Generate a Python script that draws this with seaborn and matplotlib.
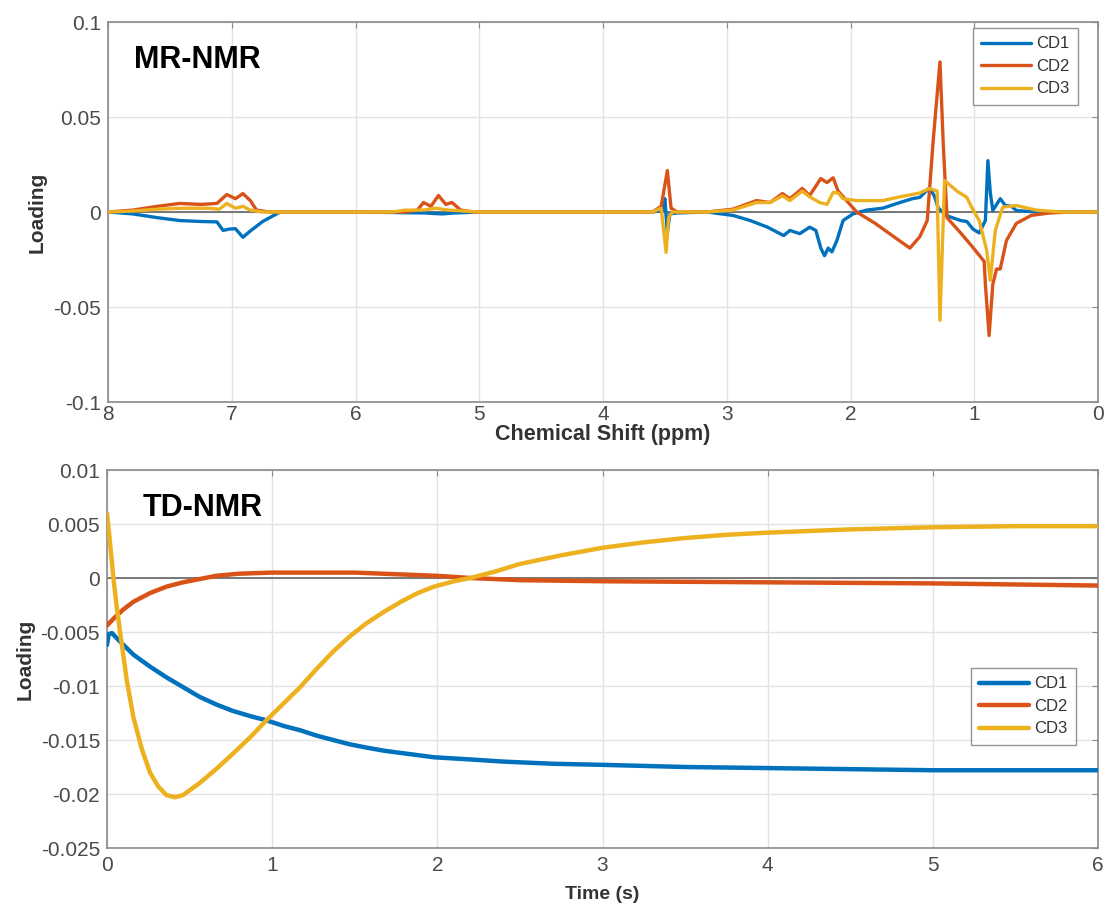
import numpy as np
import pandas as pd
import matplotlib
matplotlib.use("Agg")
import matplotlib.pyplot as plt
import seaborn as sns

# ---------------- MR-NMR spectrum loadings (ppm, loading) ----------------
cd1_ppm = [8.0, 7.8, 7.6, 7.42, 7.25, 7.12, 7.07, 7.02, 6.97, 6.91, 6.85, 6.75, 6.61,
           6.0, 5.45, 5.3, 5.2, 5.0, 4.0, 3.6, 3.52, 3.50, 3.48, 3.46, 3.4, 3.16,
           2.95, 2.81, 2.67, 2.57, 2.54, 2.49, 2.41, 2.33, 2.28, 2.24, 2.21, 2.18,
           2.15, 2.11, 2.06, 1.98, 1.87, 1.74, 1.6, 1.5, 1.44, 1.36, 1.32, 1.29,
           1.22, 1.11, 1.06, 1.01, 0.96, 0.91, 0.89, 0.87, 0.85, 0.79, 0.75, 0.70,
           0.66, 0.5, 0.0]
cd1_val = [0.0, -0.001, -0.003, -0.0045, -0.005, -0.0052, -0.0097, -0.009, -0.0088, -0.0133,
           -0.010, -0.005, 0.0,
           0.0, -0.0005, -0.001, -0.0005, 0.0, 0.0, 0.0, 0.001, 0.007, -0.011, -0.001, -0.0005, 0.0,
           -0.0018, -0.0045, -0.008, -0.0114, -0.0124, -0.0097, -0.0114, -0.008, -0.0097,
           -0.019, -0.023, -0.019, -0.021, -0.015, -0.0045, -0.001, 0.001, 0.002, 0.005,
           0.007, 0.0077, 0.0129, 0.008, 0.002,
           -0.002, -0.0045, -0.005, -0.009, -0.011, -0.0045, 0.027, 0.010, 0.0008, 0.007,
           0.0035, 0.003, 0.0008, 0.0, 0.0]

cd2_ppm = [8.0, 7.8, 7.6, 7.42, 7.25, 7.12, 7.04, 6.97, 6.91, 6.85, 6.80, 6.7,
           5.6, 5.5, 5.45, 5.39, 5.33, 5.27, 5.22, 5.15, 5.05, 3.6, 3.53, 3.48, 3.45,
           3.4, 3.16, 2.95, 2.76, 2.65, 2.55, 2.49, 2.39, 2.33, 2.24, 2.19, 2.14, 2.10,
           1.95, 1.8, 1.65, 1.52, 1.44, 1.38, 1.33, 1.277, 1.25, 1.22, 1.11, 1.01, 0.92,
           0.91, 0.88, 0.85, 0.82, 0.79, 0.74, 0.66, 0.54, 0.39, 0.2, 0.0]
cd2_val = [0.0, 0.001, 0.003, 0.0045, 0.004, 0.0045, 0.0092, 0.007, 0.0097, 0.006, 0.001, 0.0,
           0.0, 0.001, 0.005, 0.003, 0.0087, 0.004, 0.005, 0.001, 0.0, 0.0, 0.003, 0.0218, 0.002,
           0.0, 0.0, 0.0015, 0.006, 0.005, 0.0097, 0.007, 0.0124, 0.0087, 0.0176, 0.0155, 0.018,
           0.011, 0.0, -0.006, -0.013, -0.019, -0.013, -0.0045, 0.039, 0.079, 0.035, -0.003,
           -0.011, -0.0187, -0.026, -0.038, -0.065, -0.038, -0.030, -0.030, -0.015, -0.006,
           -0.0018, -0.0005, 0.0, 0.0]

cd3_ppm = [8.0, 7.8, 7.6, 7.4, 7.2, 7.1, 7.04, 6.97, 6.91, 6.85, 6.75, 5.7, 5.6,
           5.45, 5.35, 5.25, 5.0, 3.6, 3.53, 3.49, 3.47, 3.44, 3.16, 2.95, 2.76, 2.65,
           2.55, 2.49, 2.39, 2.33, 2.25, 2.19, 2.14, 2.10, 2.06, 1.95, 1.74, 1.6, 1.52,
           1.44, 1.36, 1.30, 1.277, 1.24, 1.14, 1.06, 1.02, 0.96, 0.90, 0.87, 0.83,
           0.77, 0.66, 0.5, 0.3, 0.0]
cd3_val = [0.0, 0.0005, 0.0015, 0.002, 0.002, 0.0015, 0.0045, 0.002, 0.003, 0.001, 0.0, 0.0,
           0.001, 0.001, 0.002, 0.001, 0.0, 0.0, 0.002, -0.0213, -0.003, 0.0, 0.0, 0.001,
           0.005, 0.005, 0.0085, 0.006, 0.011, 0.008, 0.005, 0.004, 0.0103, 0.010, 0.007,
           0.006, 0.006, 0.008, 0.009, 0.010, 0.0124, 0.011, -0.057, 0.0166, 0.011, 0.0077,
           0.0024, -0.0045, -0.020, -0.036, -0.0097, 0.0025, 0.0034, 0.001, 0.0, 0.0]

# ---------------- TD-NMR loadings (time s, loading) ----------------
td1_t = [0.0, 0.01, 0.03, 0.08, 0.16, 0.26, 0.36, 0.46, 0.56, 0.66, 0.76, 0.87, 0.97,
         1.07, 1.17, 1.27, 1.37, 1.47, 1.57, 1.68, 1.78, 1.88, 1.98, 2.2, 2.4, 2.7,
         3.0, 3.5, 4.0, 4.5, 5.0, 6.0]
td1_val = [-0.0062, -0.0052, -0.0051, -0.0059, -0.0071, -0.0082, -0.0092, -0.0101, -0.011,
           -0.0117, -0.0123, -0.0128, -0.0132, -0.0137, -0.0141, -0.0146, -0.015, -0.0154,
           -0.0157, -0.016, -0.0162, -0.0164, -0.0166, -0.0168, -0.017, -0.0172, -0.0173,
           -0.0175, -0.0176, -0.0177, -0.0178, -0.0178]

td2_t = [0.0, 0.05, 0.1, 0.16, 0.26, 0.36, 0.46, 0.56, 0.66, 0.8, 1.0, 1.5, 2.0, 2.2,
         2.5, 3.0, 4.0, 5.0, 6.0]
td2_val = [-0.0044, -0.0036, -0.0029, -0.0022, -0.0014, -0.0008, -0.0004, -0.0001, 0.0002,
           0.0004, 0.0005, 0.0005, 0.0002, 0.0, -0.0002, -0.0003, -0.0004, -0.0005, -0.0007]

td3_t = [0.0, 0.02, 0.04, 0.06, 0.08, 0.12, 0.16, 0.21, 0.26, 0.31, 0.36, 0.41, 0.46,
         0.56, 0.66, 0.76, 0.87, 0.97, 1.07, 1.17, 1.27, 1.37, 1.47, 1.57, 1.68, 1.78,
         1.88, 1.98, 2.1, 2.2, 2.35, 2.5, 2.75, 3.0, 3.25, 3.5, 3.75, 4.0, 4.5, 5.0,
         5.5, 6.0]
td3_val = [0.006, 0.003, -0.0002, -0.0028, -0.0051, -0.0095, -0.0129, -0.0158, -0.018,
           -0.0193, -0.0201, -0.0203, -0.0201, -0.019, -0.0177, -0.0163, -0.0147, -0.0131,
           -0.0116, -0.0101, -0.0084, -0.0068, -0.0054, -0.0042, -0.0031, -0.0022, -0.0014,
           -0.0008, -0.0003, 0.0, 0.0006, 0.0013, 0.0021, 0.0028, 0.0033, 0.0037, 0.004,
           0.0042, 0.0045, 0.0047, 0.0048, 0.0048]

series_names = ["CD1", "CD2", "CD3"]
top_yticks = [-0.1, -0.05, 0, 0.05, 0.1]
top_yticklabels = ["-0.1", "-0.05", "0", "0.05", "0.1"]
top_xticks = [8, 7, 6, 5, 4, 3, 2, 1, 0]
bot_yticks = [-0.025, -0.02, -0.015, -0.01, -0.005, 0, 0.005, 0.01]
bot_yticklabels = ["-0.025", "-0.02", "-0.015", "-0.01", "-0.005", "0", "0.005", "0.01"]
bot_xticks = [0, 1, 2, 3, 4, 5, 6]

colors = ["#0072BD", "#D95319", "#EDB120"]

sns.set_style("white")
plt.rcParams["font.family"] = ["Liberation Sans", "DejaVu Sans"]

fig = plt.figure(figsize=(11.05, 9.06), dpi=100)
ax1 = fig.add_axes([108 / 1105, 1 - 402 / 906, 990 / 1105, 380 / 906])
ax2 = fig.add_axes([107 / 1105, 1 - 848 / 906, 991 / 1105, 378 / 906])

top_sets = [(cd1_ppm, cd1_val), (cd2_ppm, cd2_val), (cd3_ppm, cd3_val)]
for (x, y), name, c in zip(top_sets, series_names, colors):
    sns.lineplot(x=x, y=y, ax=ax1, color=c, lw=2.4, label=name, sort=False,
                 estimator=None, zorder=3)

bot_sets = [(td1_t, td1_val), (td2_t, td2_val), (td3_t, td3_val)]
for (x, y), name, c in zip(bot_sets, series_names, colors):
    sns.lineplot(x=x, y=y, ax=ax2, color=c, lw=3.2, label=name, sort=False,
                 estimator=None, zorder=3)


def style(ax):
    ax.axhline(0, color="#6e6e6e", lw=1.3, zorder=2)
    ax.grid(True, color="#e3e3e3", lw=1.0)
    ax.set_axisbelow(True)
    for s in ax.spines.values():
        s.set_color("#8a8a8a")
        s.set_linewidth(1.2)
    ax.tick_params(direction="in", length=4, color="#8a8a8a", labelsize=15,
                   labelcolor="#4a4a4a", top=True, right=True, pad=5)


ax1.set_xlim(8, 0)
ax1.set_ylim(-0.1, 0.1)
ax1.set_xticks(top_xticks)
ax1.set_xticklabels([str(t) for t in top_xticks])
ax1.set_yticks(top_yticks)
ax1.set_yticklabels(top_yticklabels)
style(ax1)
ax1.tick_params(axis="x", pad=2)
ax1.set_xlabel("Chemical Shift (ppm)", fontsize=15.5, fontweight="bold", color="#333333", labelpad=0)
ax1.set_ylabel("Loading", fontsize=15, fontweight="bold", color="#333333", labelpad=5)
ax1.text(0.026, 0.9, "MR-NMR", transform=ax1.transAxes, fontsize=22, fontweight="bold",
         color="black", va="center", ha="left")

ax2.set_xlim(0, 6)
ax2.set_ylim(-0.025, 0.01)
ax2.set_xticks(bot_xticks)
ax2.set_xticklabels([str(t) for t in bot_xticks])
ax2.set_yticks(bot_yticks)
ax2.set_yticklabels(bot_yticklabels)
style(ax2)
ax2.tick_params(axis="x", pad=6)
ax2.set_xlabel("Time (s)", fontsize=14, fontweight="bold", color="#333333", labelpad=8)
ax2.set_ylabel("Loading", fontsize=15, fontweight="bold", color="#333333", labelpad=4)
ax2.text(0.036, 0.9, "TD-NMR", transform=ax2.transAxes, fontsize=22, fontweight="bold",
         color="black", va="center", ha="left")

for ax, anchor in [(ax1, (0.98, 0.984)), (ax2, (0.978, 0.476))]:
    leg = ax.legend(loc="upper right", bbox_to_anchor=anchor, fontsize=12,
                    frameon=True, fancybox=False, handlelength=3.0, borderpad=0.5,
                    labelspacing=0.45, handletextpad=0.3, borderaxespad=0)
    leg.get_frame().set_edgecolor("#7a7a7a")
    leg.get_frame().set_linewidth(1.0)
    for t in leg.get_texts():
        t.set_color("#333333")

fig.savefig("out.png", dpi=100)
